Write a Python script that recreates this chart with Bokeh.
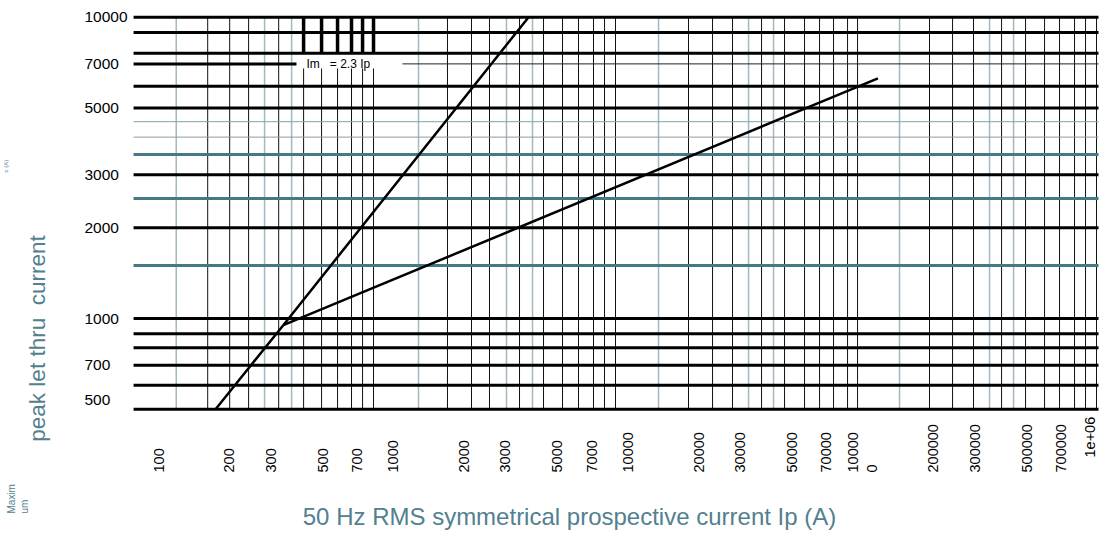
import math
from bokeh.plotting import figure
from bokeh.models import Range1d, Label
from bokeh.embed import file_html
from bokeh.resources import INLINE

# ---------------- data ----------------
# let-through curves (prospective current Ip [A] -> peak current Im [A])
ip_curve_a = [175, 340, 3770]
im_curve_a = [500, 950, 10000]
ip_curve_b = [340, 116000]
im_curve_b = [950, 6270]

x_ticks = [100, 200, 300, 500, 700, 1000, 2000, 3000, 5000, 7000,
           10000, 20000, 30000, 50000, 70000, 100000, 200000, 300000,
           500000, 700000, 1000000]
x_tick_text = ["100", "200", "300", "500", "700", "1000", "2000", "3000",
               "5000", "7000", "10000", "20000", "30000", "50000", "70000",
               "10000\n0", "200000", "300000", "500000", "700000", "1e+06"]
y_ticks = [500, 700, 1000, 2000, 3000, 5000, 7000, 10000]
y_tick_text = ["500", "700", "1000", "2000", "3000", "5000", "7000", "10000"]

# vertical grid lines (Ip values)
grid_x_light = [119, 283, 369, 1281, 3036, 3919, 13490, 32620, 41670,
                143400, 346700, 438800]
grid_x_dark = [162, 201, 242, 325,
               1702, 2154, 2570, 3450, 4366, 5260, 6153, 7128, 7941, 8845,
               18100, 22910, 27870, 37050, 46420, 56480, 65440, 75070, 86130, 95000,
               192400, 241200, 296300, 390100, 493600, 594700, 688900, 798000,
               888900, 990000]
grid_x_marked = [415, 495, 579, 664, 740, 824]

# horizontal grid lines (Im values)
grid_y_thick = [500, 600, 700, 800, 890, 1000, 2000, 3000, 5000, 5900,
                7600, 8900, 10000]
grid_y_teal = [1500, 2500, 3500]
grid_y_thin = [4000, 4500]
grid_y_split = [7000]

formula_text = "Im\u00a0\u00a0\u00a0= 2.3 Ip"
x_title = "50 Hz RMS symmetrical prospective current Ip (A)"
y_title = "peak let thru\u00a0 current"
y_title_small = "Maxim\num"
y_title_unit = "c (A)"

# ---------------- figure ----------------
W, H = 1099, 534
# visible ranges (whole canvas) and the ruled chart area inside it
X_VIEW = (21.23, 1019400)
Y_VIEW = (191.9, 11363)
X_LO, X_HI = 78.3, 1.0095e6
Y_LO, Y_HI = 500, 10000
BAND_LO, BAND_HI = 6760, 7600      # gap for the formula text
SPLIT_L, SPLIT_R = 387, 1094       # gap of the 7000 line

FONT = "Liberation Sans"
TITLE_COLOR = "#52808f"

p = figure(width=W, height=H, x_axis_type="log", y_axis_type="log",
           x_range=Range1d(*X_VIEW), y_range=Range1d(*Y_VIEW),
           x_axis_location=None, y_axis_location=None,
           output_backend="svg", toolbar_location=None, min_border=0)
p.xgrid.visible = False
p.ygrid.visible = False
p.outline_line_color = None
p.background_fill_color = "white"
p.border_fill_color = "white"

def vlines(xs, y0, y1, **kw):
    p.segment(x0=xs, x1=xs, y0=[y0] * len(xs), y1=[y1] * len(xs), **kw)

def hlines(ys, x0, x1, **kw):
    p.segment(x0=[x0] * len(ys), x1=[x1] * len(ys), y0=ys, y1=ys, **kw)

# vertical grid
vlines(grid_x_light, Y_LO, Y_HI, line_color="#a3b8c0", line_width=1.5)
vlines(grid_x_dark, Y_LO, Y_HI, line_color="#111111", line_width=1)
vlines(grid_x_marked, Y_LO, BAND_LO, line_color="#111111", line_width=1)

# horizontal grid
hlines(grid_y_thin[:1], X_LO, X_HI, line_color="#8c9ea5", line_width=1)
hlines(grid_y_thin[1:], X_LO, X_HI, line_color="#7ea3a9", line_width=1)
hlines(grid_y_teal, X_LO, X_HI, line_color="#447a84", line_width=3)
hlines(grid_y_thick, X_LO, X_HI, line_color="#000000", line_width=3)
hlines(grid_y_split, X_LO, SPLIT_L, line_color="#000000", line_width=3)
hlines(grid_y_split, SPLIT_R, X_HI, line_color="#222222", line_width=1)

# thick upper marks
vlines(grid_x_marked, BAND_HI, Y_HI, line_color="#000000", line_width=3.5)

# curves
p.line(ip_curve_a, im_curve_a, line_color="#000000", line_width=2.5)
p.line(ip_curve_b, im_curve_b, line_color="#000000", line_width=2.5)

# x tick texts: rotated, reading upwards, starting on a common line
for t, s in zip(x_ticks, x_tick_text):
    last = (t == x_ticks[-1])
    p.add_layout(Label(x=t, y=62, x_units="data", y_units="screen", text=s,
                       x_offset=(-8 if last else 0), y_offset=(15 if last else 0),
                       text_font=FONT, text_font_size="14.5px",
                       text_color="#000000", angle=math.pi / 2,
                       text_align="left", text_baseline="middle"))

# y tick texts
for t, s in zip(y_ticks, y_tick_text):
    p.add_layout(Label(x=84, y=t, x_units="screen", y_units="data", text=s,
                       y_offset=(9 if t == y_ticks[0] else 0),
                       text_font=FONT, text_font_size="15.5px",
                       text_color="#000000", text_align="left",
                       text_baseline="middle"))

# other texts
p.add_layout(Label(x=427, y=7000, text=formula_text, text_font=FONT,
                   text_font_size="12px", text_color="#000000",
                   text_baseline="middle", text_align="left"))
p.add_layout(Label(x=569, y=18, x_units="screen", y_units="screen",
                   text=x_title, text_font=FONT, text_font_size="24px",
                   text_color=TITLE_COLOR, text_align="center",
                   text_baseline="middle"))
p.add_layout(Label(x=37, y=196, x_units="screen", y_units="screen",
                   text=y_title, text_font=FONT, text_font_size="22.5px",
                   text_color=TITLE_COLOR, text_align="center",
                   text_baseline="middle", angle=math.pi / 2))
p.add_layout(Label(x=5, y=21, x_units="screen", y_units="screen",
                   text=y_title_small, text_font=FONT, text_font_size="10px",
                   text_color=TITLE_COLOR, text_align="left",
                   text_baseline="top", angle=math.pi / 2))
p.add_layout(Label(x=2, y=362, x_units="screen", y_units="screen",
                   text=y_title_unit, text_font=FONT, text_font_size="6px",
                   text_color=TITLE_COLOR, text_align="left",
                   text_baseline="top", angle=math.pi / 2))

open("out.html", "w").write(file_html(p, INLINE))
